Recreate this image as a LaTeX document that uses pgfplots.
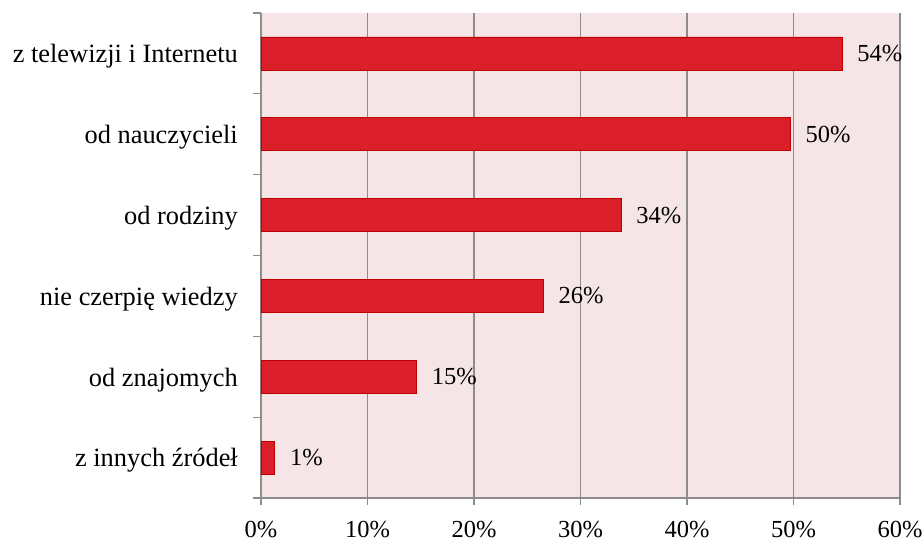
\documentclass[border=0pt]{standalone}
\usepackage{fontspec}
\setmainfont{Liberation Serif}
\usepackage{pgfplots}
\pgfplotsset{compat=1.18}
\definecolor{bg}{HTML}{F5E5E7}
\definecolor{barfill}{HTML}{DA1F2B}
\definecolor{barline}{HTML}{C00000}
\definecolor{gridc}{HTML}{8C8C8C}
\begin{document}
\fontsize{24.5}{28}\selectfont
\begin{tikzpicture}[x=1pt,y=1pt]
\useasboundingbox (-261,-43) rectangle (662,498);
\begin{axis}[
  at={(0,0)}, anchor=south west,
  scale only axis, width=639pt, height=485pt,
  xmin=0, xmax=60, ymin=-0.5, ymax=5.5,
  xbar, bar width=33pt,
  axis background/.style={fill=bg},
  axis x line*=bottom, axis y line*=left,
  axis line style={gridc, line width=1.1pt},
  xtick={0,10,...,60},
  xticklabels={0\%,10\%,20\%,30\%,40\%,50\%,60\%},
  xmajorgrids, grid style={gridc, line width=1.1pt},
  tick align=outside, major tick length=7pt, minor tick length=8pt,
  tick style={gridc, line width=1.1pt},
  ytick={0,...,5},
  yticklabels={z innych źródeł, od znajomych, nie czerpię wiedzy, od rodziny, od nauczycieli, z telewizji i Internetu},
  minor ytick={-0.5,0.5,...,5.5},
  every major y tick/.append style={draw=none},
  yticklabel style={anchor=east, inner sep=0pt, xshift=-16pt, yshift=-3pt, font=\fontsize{26.4}{30}\selectfont},
  xticklabel style={anchor=base, inner sep=0pt, yshift=-32pt, font=\fontsize{24.5}{28}\selectfont},
  point meta=explicit symbolic,
  nodes near coords={\pgfplotspointmeta\%},
  nodes near coords style={anchor=west, inner sep=0pt, xshift=15pt, black, font=\fontsize{24.5}{28}\selectfont},
  clip=false,
]
\addplot[fill=barfill, draw=barline, line width=0.8pt] coordinates {
  (1.3,0) [1]
  (14.6,1) [15]
  (26.5,2) [26]
  (33.8,3) [34]
  (49.7,4) [50]
  (54.55,5) [54]
};
\end{axis}
\end{tikzpicture}
\end{document}
